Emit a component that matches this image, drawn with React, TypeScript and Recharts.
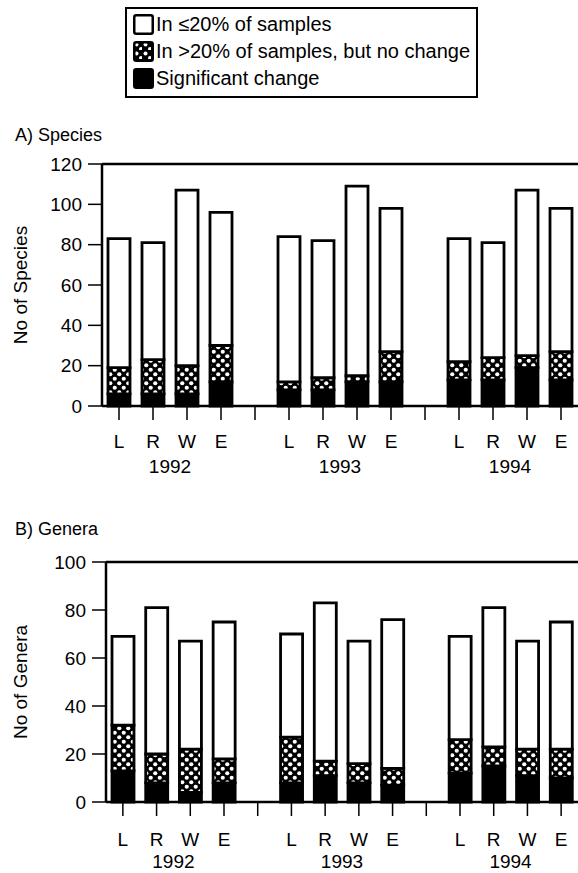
import React from "react";
import { BarChart, Bar, XAxis, YAxis, ReferenceLine } from "recharts";

const FONT = '"Liberation Sans", Arial, Helvetica, sans-serif';

const SITES = ["L", "R", "W", "E"];
const YEARS = ["1992", "1993", "1994"];

// per site & year: significant change / in >20% no change / in <=20%
const speciesSig = [6, 6, 6, 12, 8, 8, 12, 12, 13, 13, 19, 13];
const speciesShared = [13, 17, 14, 18, 4, 6, 3, 15, 9, 11, 6, 14];
const speciesRare = [64, 58, 87, 66, 72, 68, 94, 71, 61, 57, 82, 71];

const generaSig = [13, 8, 4, 8, 8, 11, 8, 7, 12, 15, 11, 10];
const generaShared = [19, 12, 18, 10, 19, 6, 8, 7, 14, 8, 11, 12];
const generaRare = [37, 61, 45, 57, 43, 66, 51, 62, 43, 58, 45, 53];

const speciesTicks = [0, 20, 40, 60, 80, 100, 120];
const generaTicks = [0, 20, 40, 60, 80, 100];

type Row = {
  id: string;
  site?: string;
  year?: string;
  sig?: number;
  shared?: number;
  rare?: number;
};

// 4 sites per year with an empty slot between years
function buildRows(sig: number[], shared: number[], rare: number[]): Row[] {
  const rows: Row[] = [];
  YEARS.forEach((year, yi) => {
    SITES.forEach((site, si) => {
      const k = yi * SITES.length + si;
      rows.push({ id: `${year}-${site}`, site, year, sig: sig[k], shared: shared[k], rare: rare[k] });
    });
    if (yi < YEARS.length - 1) rows.push({ id: `gap-${yi}` });
  });
  return rows;
}

const speciesRows = buildRows(speciesSig, speciesShared, speciesRare);
const generaRows = buildRows(generaSig, generaShared, generaRare);

const SiteTick = (props: any) => {
  const { x, y, payload, rows, band, siteDy, yearDy } = props;
  const row = rows.find((r: Row) => r.id === payload.value);
  if (!row || !row.site) return null;
  return (
    <g fontFamily={FONT} fontSize={19} fill="#000">
      <text x={x} y={y + siteDy} textAnchor="middle">
        {row.site}
      </text>
      {row.site === "R" && (
        <text x={x + band / 2} y={y + yearDy} textAnchor="middle">
          {row.year}
        </text>
      )}
    </g>
  );
};

const Hatch = ({ id }: { id: string }) => (
  <defs>
    <pattern id={id} width={9} height={9} patternUnits="userSpaceOnUse">
      <rect width={9} height={9} fill="#000" />
      <circle cx={2.25} cy={2.25} r={2.1} fill="#fff" />
      <circle cx={6.75} cy={6.75} r={2.1} fill="#fff" />
    </pattern>
  </defs>
);

interface PanelProps {
  rows: Row[];
  max: number;
  ticks: number[];
  yLabel: string;
  hatchId: string;
  height: number;
  top: number;
  xHeight: number;
  yWidth: number;
  siteDy: number;
  yearDy: number;
  rightBorder?: boolean;
}

function Panel({ rows, max, ticks, yLabel, hatchId, height, top, xHeight, yWidth, siteDy, yearDy, rightBorder }: PanelProps) {
  const width = 578;
  const band = (width - yWidth) / rows.length;
  const axisStyle = { stroke: "#000", strokeWidth: 2.5 };
  const barStroke = { stroke: "#000", strokeWidth: 2.8 };
  return (
    <BarChart width={width} height={height} data={rows} margin={{ top, right: 0, bottom: 0, left: 0 }}>
      <Hatch id={hatchId} />
      <XAxis
        dataKey="id"
        height={xHeight}
        interval={0}
        tickSize={14}
        axisLine={axisStyle}
        tickLine={{ stroke: "#000", strokeWidth: 1.5 }}
        tick={<SiteTick rows={rows} band={band} siteDy={siteDy} yearDy={yearDy} />}
      />
      <YAxis
        domain={[0, max]}
        ticks={ticks}
        width={yWidth}
        tickSize={14}
        tickMargin={6}
        axisLine={axisStyle}
        tickLine={{ stroke: "#000", strokeWidth: 1.5 }}
        tick={{ fill: "#000", fontSize: 19, fontFamily: FONT }}
        label={{
          value: yLabel,
          angle: -90,
          position: "insideLeft",
          offset: 20,
          style: { textAnchor: "middle", fill: "#000", fontSize: 19, fontFamily: FONT },
        }}
      />
      {rightBorder && (
        <YAxis yAxisId="frame" orientation="right" width={0} tick={false} tickLine={false} axisLine={axisStyle} />
      )}
      <ReferenceLine y={max} stroke="#000" strokeWidth={2.5} ifOverflow="extendDomain" />
      <Bar dataKey="sig" stackId="s" fill="#000" {...barStroke} barSize={22} isAnimationActive={false} />
      <Bar dataKey="shared" stackId="s" fill={`url(#${hatchId})`} {...barStroke} barSize={22} isAnimationActive={false} />
      <Bar dataKey="rare" stackId="s" fill="#fff" {...barStroke} barSize={22} isAnimationActive={false} />
    </BarChart>
  );
}

const legendItems = [
  { label: "In \u226420% of samples", kind: "open" },
  { label: "In >20% of samples, but no change", kind: "hatch" },
  { label: "Significant change", kind: "solid" },
];

function Legend() {
  return (
    <div
      style={{
        position: "absolute",
        left: 125,
        top: 7,
        width: 353,
        height: 91,
        border: "2px solid #000",
        boxSizing: "border-box",
        fontFamily: FONT,
        fontSize: 20,
      }}
    >
      {legendItems.map((item, i) => (
        <div
          key={item.label}
          style={{ position: "absolute", left: 6, top: 3 + i * 27, height: 24, display: "flex", alignItems: "center" }}
        >
          <svg width={21} height={21} style={{ marginRight: 2 }}>
            <defs>
              <pattern id={`lg-hatch-${i}`} width={9} height={9} patternUnits="userSpaceOnUse">
                <rect width={9} height={9} fill="#000" />
                <circle cx={3.5} cy={3.5} r={2} fill="#fff" />
                <circle cx={8} cy={8} r={2} fill="#fff" />
              </pattern>
            </defs>
            <rect
              x={1.25}
              y={1.25}
              width={18.5}
              height={18.5}
              rx={2}
              fill={item.kind === "open" ? "#fff" : item.kind === "solid" ? "#000" : `url(#lg-hatch-${i})`}
              stroke="#000"
              strokeWidth={2.5}
            />
          </svg>
          <span>{item.label}</span>
        </div>
      ))}
    </div>
  );
}

export default function App() {
  const titleStyle: React.CSSProperties = {
    position: "absolute",
    left: 15,
    fontFamily: FONT,
    fontSize: 18,
    lineHeight: "20px",
  };
  return (
    <div style={{ position: "absolute", left: 0, top: 0, width: 578, height: 873, background: "#fff", overflow: "hidden" }}>
      <Legend />
      <div style={{ ...titleStyle, top: 125 }}>A) Species</div>
      <div style={{ position: "absolute", left: 0, top: 120 }}>
        <Panel
          rows={speciesRows}
          max={120}
          ticks={speciesTicks}
          yLabel="No of Species"
          hatchId="hatch-species"
          height={360}
          top={44}
          xHeight={74}
          yWidth={102}
          siteDy={26}
          yearDy={51}
          rightBorder
        />
      </div>
      <div style={{ ...titleStyle, top: 519 }}>B) Genera</div>
      <div style={{ position: "absolute", left: 0, top: 510 }}>
        <Panel
          rows={generaRows}
          max={100}
          ticks={generaTicks}
          yLabel="No of Genera"
          hatchId="hatch-genera"
          height={363}
          top={52}
          xHeight={71}
          yWidth={106}
          siteDy={28}
          yearDy={50}
        />
      </div>
    </div>
  );
}
